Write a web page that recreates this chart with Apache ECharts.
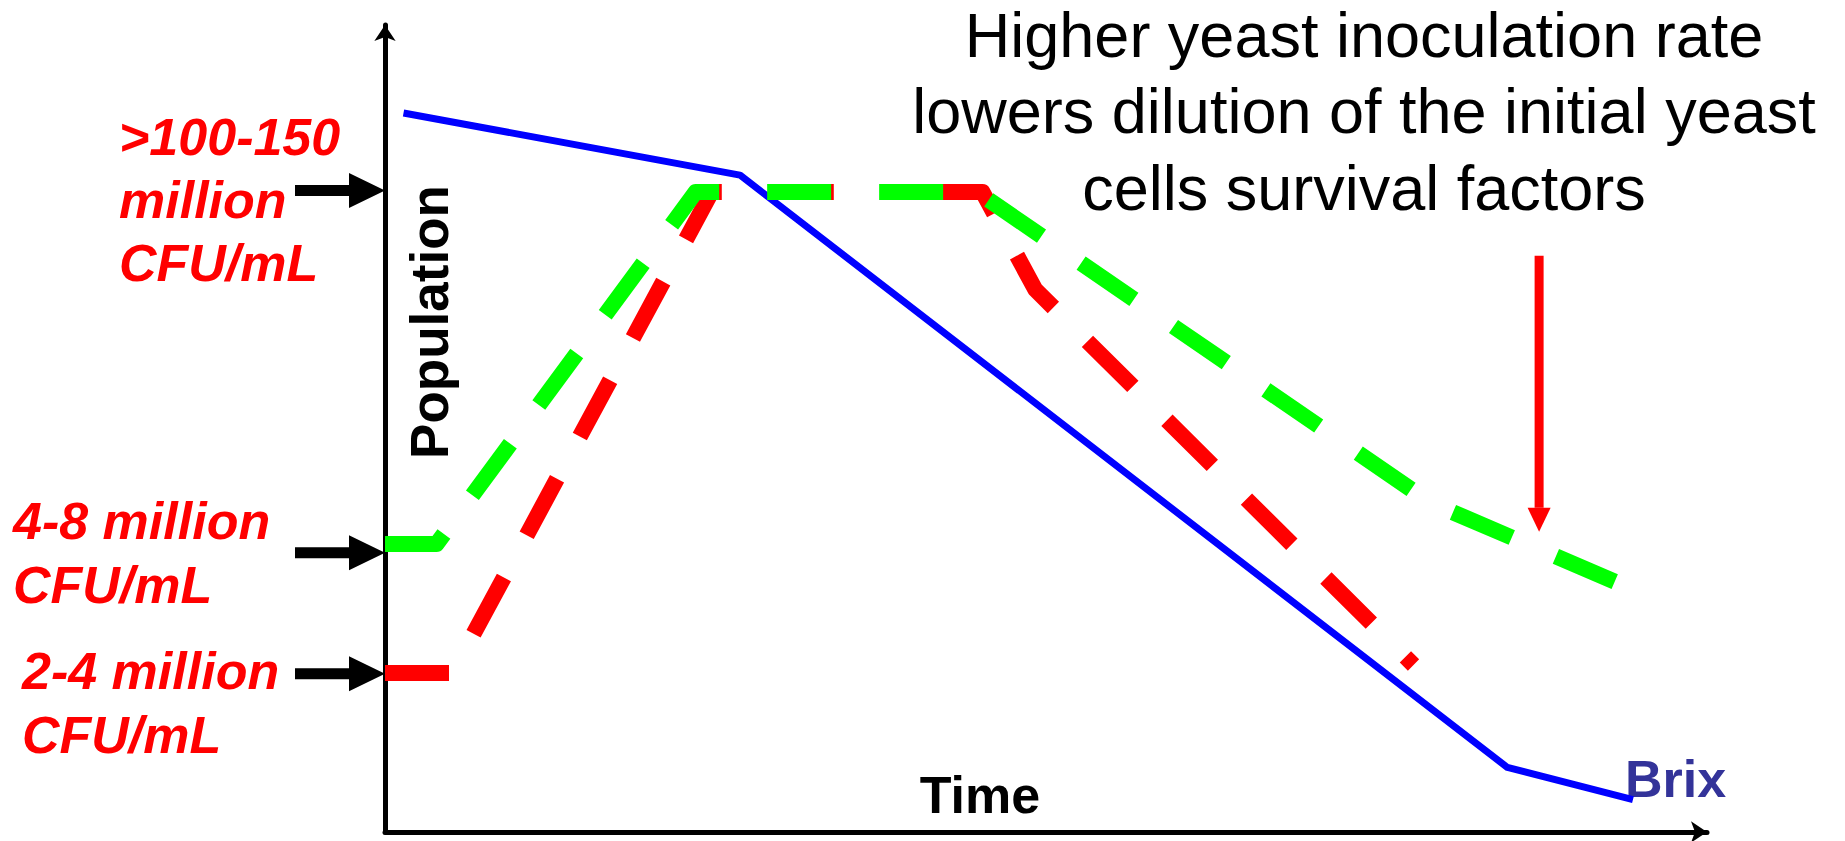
<!DOCTYPE html>
<html>
<head>
<meta charset="utf-8">
<script src="https://cdn.jsdelivr.net/npm/echarts@6/dist/echarts.min.js"></script>
<style>
  html, body { margin: 0; padding: 0; background: #ffffff; }
  #chart { width: 1845px; height: 841px; }
</style>
</head>
<body>
<div id="chart"></div>
<script>
// Both axes use a relative 0-100 scale (time → right, population → up).
const brixCurve = [[1.4, 89.1], [26.85, 81.4], [84.9, 8.0], [94.4, 4.0]];
const highInoculum = [[0, 35.7], [3.9, 35.7], [23.5, 79.3], [44.8, 79.3], [79.1, 40.8], [93.2, 30.9]];
const lowInoculumGrowth = [[0, 19.7], [5.1, 19.7], [24.7, 79.3], [42.2, 79.3]];
const lowInoculumDecline = [[42.2, 79.3], [45.2, 79.3], [49.2, 67.2], [77.8, 20.7]];

// Population levels pointed at on the vertical axis, with their captions.
const inoculumLevels = [79.5, 34.6, 19.6];
const inoculumCaptions = [
  ['>100-150', 'million', 'CFU/mL'],
  ['4-8 million', 'CFU/mL'],
  ['2-4 million', 'CFU/mL']
];
// Vertical call-out arrow: [time, top, tip].
const survivalArrow = [[87.3, 71.4, 37.2]];

const titleLines = ['Higher yeast inoculation rate', 'lowers dilution of the initial yeast', 'cells survival factors'];
const xAxisTitle = 'Time';
const yAxisTitle = 'Population';
const brixLabel = 'Brix';

const FONT = '"Liberation Sans", Arial, Helvetica, sans-serif';

function textEl(str, x, baseline, size, opts) {
  opts = opts || {};
  return {
    type: 'text',
    x: x,
    y: baseline - 0.35 * size,
    rotation: opts.rotation || 0,
    silent: true,
    style: {
      text: str,
      fill: opts.color || '#000000',
      fontSize: size,
      fontFamily: FONT,
      fontWeight: opts.weight || 'normal',
      fontStyle: opts.style || 'normal',
      align: opts.align || 'left',
      verticalAlign: 'middle',
      textAlign: opts.align || 'left',
      textVerticalAlign: 'middle'
    }
  };
}

// Caption blocks: left edge, first baseline, line step.
const captionLayout = [
  { left: 119, base: 155, step: 63 },
  { left: 13, base: 539, step: 64 },
  { left: 22, base: 689, step: 64 }
];

const graphics = [];
inoculumCaptions.forEach(function (lines, i) {
  const lay = captionLayout[i];
  lines.forEach(function (line, j) {
    graphics.push(textEl(line, lay.left, lay.base + j * lay.step, 52,
      { color: '#ff0000', weight: 'bold', style: 'italic' }));
  });
});
titleLines.forEach(function (line, i) {
  graphics.push(textEl(line, 1364, 57 + i * 76.5, 63, { align: 'center' }));
});
graphics.push(textEl(xAxisTitle, 980, 813, 52, { weight: 'bold', align: 'center' }));
graphics.push(textEl(brixLabel, 1625, 797, 52, { weight: 'bold', color: '#333399' }));
// Rotated axis title: the baseline runs vertically at x = 448.
graphics.push({
  type: 'text',
  x: 448 - 0.35 * 53,
  y: 322,
  rotation: Math.PI / 2,
  silent: true,
  style: {
    text: yAxisTitle, fill: '#000000', fontSize: 53, fontFamily: FONT, fontWeight: 'bold',
    align: 'center', verticalAlign: 'middle', textAlign: 'center', textVerticalAlign: 'middle'
  }
});

const dashStyle = [64, 48];
const axisCommon = {
  type: 'value',
  min: 0,
  max: 100,
  axisLine: {
    show: true,
    onZero: false,
    symbol: ['none', 'arrow'],
    symbolSize: [16, 16],
    lineStyle: { color: '#000000', width: 5 }
  },
  axisTick: { show: false },
  axisLabel: { show: false },
  splitLine: { show: false }
};

const chart = echarts.init(document.getElementById('chart'), null, { renderer: 'svg' });
chart.setOption({
  animation: false,
  backgroundColor: '#ffffff',
  grid: { left: 385, right: 138, top: 25, bottom: 9, containLabel: false },
  xAxis: axisCommon,
  yAxis: axisCommon,
  graphic: graphics,
  series: [
    {
      name: 'Brix',
      type: 'line',
      data: brixCurve,
      symbol: 'none',
      z: 2,
      lineStyle: { color: '#0000ff', width: 7, join: 'round' }
    },
    {
      name: 'Low inoculum (growth)',
      type: 'line',
      data: lowInoculumGrowth,
      symbol: 'none',
      z: 3,
      lineStyle: { color: '#ff0000', width: 16, type: dashStyle, join: 'round', cap: 'butt' }
    },
    {
      name: 'Low inoculum (decline)',
      type: 'line',
      data: lowInoculumDecline,
      symbol: 'none',
      z: 3,
      lineStyle: { color: '#ff0000', width: 16, type: dashStyle, join: 'round', cap: 'butt' }
    },
    {
      name: 'High inoculum',
      type: 'line',
      data: highInoculum,
      symbol: 'none',
      z: 4,
      lineStyle: { color: '#00ff00', width: 16, type: dashStyle, join: 'round', cap: 'butt' }
    },
    {
      name: 'Inoculum levels',
      type: 'custom',
      coordinateSystem: 'cartesian2d',
      clip: false,
      z: 5,
      data: inoculumLevels.map(function (v) { return [0, v]; }),
      renderItem: function (params, api) {
        const p = api.coord([api.value(0), api.value(1)]);
        const x = p[0], y = p[1];
        return {
          type: 'polygon',
          shape: { points: [[x - 90, y - 5.5], [x - 36, y - 5.5], [x - 36, y - 17.5], [x, y],
                            [x - 36, y + 17.5], [x - 36, y + 5.5], [x - 90, y + 5.5]] },
          style: { fill: '#000000' }
        };
      }
    },
    {
      name: 'Survival call-out',
      type: 'custom',
      coordinateSystem: 'cartesian2d',
      clip: false,
      z: 5,
      data: survivalArrow,
      renderItem: function (params, api) {
        const top = api.coord([api.value(0), api.value(1)]);
        const tip = api.coord([api.value(0), api.value(2)]);
        const x = top[0];
        const headBase = tip[1] - 24;
        return {
          type: 'group',
          children: [
            { type: 'rect', shape: { x: x - 4.5, y: top[1], width: 9, height: headBase - top[1] }, style: { fill: '#ff0000' } },
            { type: 'polygon', shape: { points: [[x - 11.5, headBase], [x + 11.5, headBase], [x, tip[1]]] }, style: { fill: '#ff0000' } }
          ]
        };
      }
    }
  ]
});
</script>
</body>
</html>
